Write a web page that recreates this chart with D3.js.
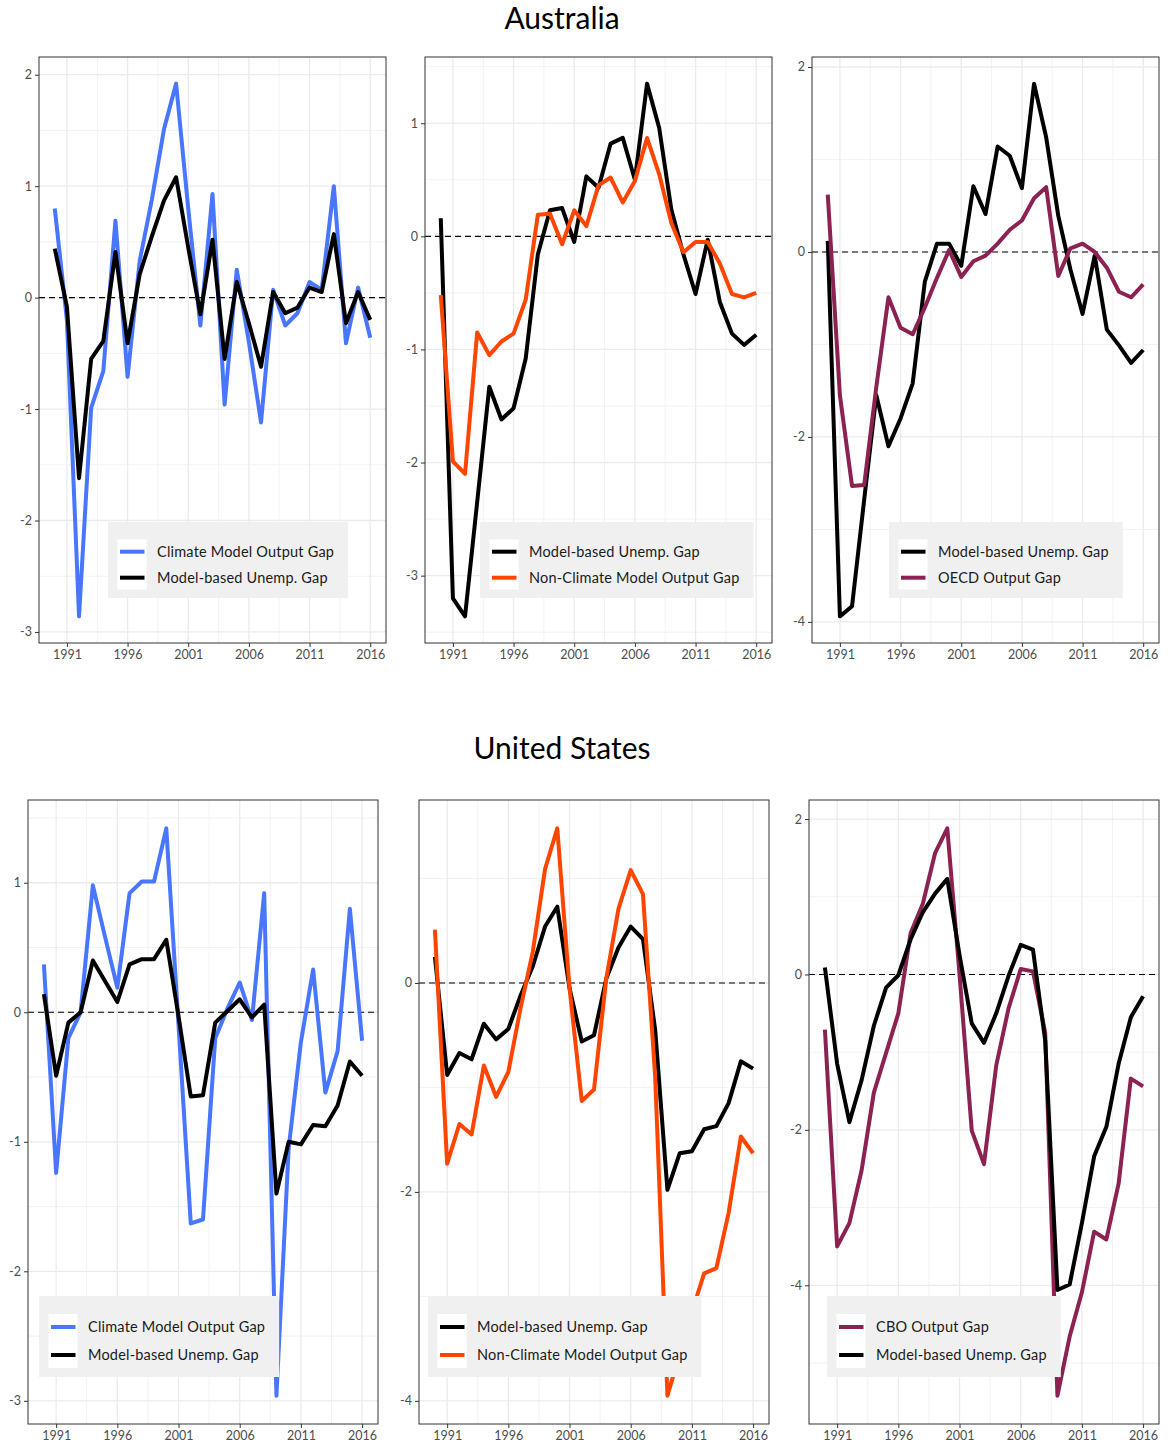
<!DOCTYPE html>
<html>
<head>
<meta charset="utf-8">
<script src="https://cdn.jsdelivr.net/npm/d3@7/dist/d3.min.js"></script>
<style>
  html, body { margin: 0; padding: 0; background: #ffffff; }
  svg { display: block; }
</style>
</head>
<body>
<svg id="chart" width="1168" height="1449"></svg>
<script>
// ---- data -----------------------------------------------------------------
const years = [1990, 1991, 1992, 1993, 1994, 1995, 1996, 1997, 1998, 1999,
               2000, 2001, 2002, 2003, 2004, 2005, 2006, 2007, 2008, 2009,
               2010, 2011, 2012, 2013, 2014, 2015, 2016];
const xTickYears = [1991, 1996, 2001, 2006, 2011, 2016];

// Australia
const auClimateGap    = [0.80, -0.20, -2.86, -0.99, -0.66, 0.69, -0.71, 0.33, 0.88, 1.51,
                         1.92, 0.80, -0.25, 0.93, -0.96, 0.25, -0.40, -1.12, 0.07, -0.25,
                         -0.14, 0.14, 0.07, 1.00, -0.41, 0.09, -0.36];
const auUnempGapA     = [0.44, -0.08, -1.62, -0.55, -0.39, 0.41, -0.41, 0.21, 0.55, 0.87,
                         1.08, 0.45, -0.15, 0.52, -0.55, 0.14, -0.23, -0.62, 0.05, -0.14,
                         -0.09, 0.09, 0.05, 0.57, -0.23, 0.05, -0.20];
const auNonClimateGap = [-0.52, -1.99, -2.10, -0.85, -1.05, -0.93, -0.86, -0.56, 0.19, 0.20,
                         -0.07, 0.23, 0.09, 0.45, 0.52, 0.30, 0.49, 0.87, 0.55, 0.12,
                         -0.14, -0.05, -0.05, -0.24, -0.51, -0.54, -0.50];
const auUnempGapB     = [0.16, -3.20, -3.36, -2.35, -1.33, -1.62, -1.52, -1.08, -0.16, 0.23,
                         0.25, -0.05, 0.53, 0.43, 0.82, 0.87, 0.50, 1.35, 0.96, 0.24,
                         -0.16, -0.51, -0.03, -0.58, -0.86, -0.96, -0.87];
const auOecdGap       = [0.62, -1.55, -2.53, -2.52, -1.46, -0.49, -0.82, -0.89, -0.60, -0.28,
                         0.02, -0.27, -0.10, -0.04, 0.09, 0.24, 0.34, 0.58, 0.70, -0.26,
                         0.04, 0.09, 0.00, -0.17, -0.43, -0.49, -0.35];
const auUnempGapC     = [0.12, -3.94, -3.83, -2.68, -1.55, -2.10, -1.80, -1.42, -0.32, 0.09,
                         0.09, -0.15, 0.71, 0.41, 1.14, 1.04, 0.69, 1.82, 1.24, 0.39,
                         -0.19, -0.67, -0.04, -0.84, -1.01, -1.20, -1.06];

// United States
const usClimateGap    = [0.37, -1.24, -0.20, 0.00, 0.98, 0.58, 0.19, 0.92, 1.01, 1.01,
                         1.42, -0.10, -1.63, -1.60, -0.20, 0.03, 0.23, -0.06, 0.92, -2.96,
                         -1.05, -0.23, 0.33, -0.62, -0.30, 0.80, -0.22];
const usUnempGapA     = [0.14, -0.49, -0.08, 0.00, 0.40, 0.24, 0.08, 0.37, 0.41, 0.41,
                         0.56, -0.03, -0.65, -0.64, -0.08, 0.01, 0.10, -0.04, 0.06, -1.40,
                         -1.00, -1.02, -0.87, -0.88, -0.72, -0.38, -0.49];
const usNonClimateGap = [0.51, -1.73, -1.35, -1.45, -0.79, -1.09, -0.85, -0.24, 0.30, 1.09,
                         1.48, -0.05, -1.13, -1.02, 0.04, 0.71, 1.08, 0.85, -0.90, -3.95,
                         -3.55, -3.15, -2.78, -2.73, -2.20, -1.47, -1.63];
const usUnempGapB     = [0.25, -0.88, -0.67, -0.73, -0.39, -0.54, -0.44, -0.12, 0.16, 0.54,
                         0.73, -0.05, -0.56, -0.50, 0.04, 0.34, 0.54, 0.42, -0.45, -1.98,
                         -1.63, -1.61, -1.40, -1.37, -1.15, -0.75, -0.82];
const usCboGap        = [-0.71, -3.50, -3.20, -2.52, -1.52, -1.01, -0.50, 0.53, 0.91, 1.56,
                         1.88, 0.00, -2.01, -2.44, -1.17, -0.44, 0.07, 0.04, -0.75, -5.42,
                         -4.66, -4.09, -3.31, -3.41, -2.69, -1.34, -1.44];
const usUnempGapC     = [0.09, -1.15, -1.90, -1.36, -0.66, -0.17, -0.01, 0.45, 0.80, 1.04,
                         1.23, 0.25, -0.63, -0.88, -0.50, -0.02, 0.38, 0.32, -0.85, -4.06,
                         -3.99, -3.20, -2.34, -1.96, -1.15, -0.55, -0.28];

// y-axis tick labels per panel
const yTicksAuClimate    = [-3, -2, -1, 0, 1, 2];
const yTicksAuNonClimate = [-3, -2, -1, 0, 1];
const yTicksAuOecd       = [-4, -2, 0, 2];
const yTicksUsClimate    = [-3, -2, -1, 0, 1];
const yTicksUsNonClimate = [-4, -2, 0];
const yTicksUsCbo        = [-4, -2, 0, 2];

const countryTitles = ["Australia", "United States"];

const lblClimate    = "Climate Model Output Gap";
const lblUnemp      = "Model-based Unemp. Gap";
const lblNonClimate = "Non-Climate Model Output Gap";
const lblOecd       = "OECD Output Gap";
const lblCbo        = "CBO Output Gap";

// ---- styling ----------------------------------------------------------------
const FONT = "Lato, 'DejaVu Sans', sans-serif";
const C_BLUE = "#4876FF", C_BLACK = "#000000", C_ORANGE = "#FF4500", C_MAROON = "#8B2252";

const row1 = { top: 57,  bottom: 643,  legTop: 522,  legH: 76, legLine1: 29.7, legGap: 26, keyTop: 17.5, keyBottom: 8.5 };
const row2 = { top: 800, bottom: 1424, legTop: 1296, legH: 81, legLine1: 31,   legGap: 28, keyTop: 18,   keyBottom: 9 };

const panels = [
  { row: row1, x0: 39,  x1: 386,  yTicks: yTicksAuClimate,    legX: 108,
    series: [{ name: lblClimate, values: auClimateGap, color: C_BLUE },
             { name: lblUnemp,   values: auUnempGapA,  color: C_BLACK }] },
  { row: row1, x0: 425, x1: 772,  yTicks: yTicksAuNonClimate, legX: 480,
    series: [{ name: lblUnemp,      values: auUnempGapB,     color: C_BLACK },
             { name: lblNonClimate, values: auNonClimateGap, color: C_ORANGE }] },
  { row: row1, x0: 812, x1: 1159, yTicks: yTicksAuOecd,       legX: 889,
    series: [{ name: lblUnemp, values: auUnempGapC, color: C_BLACK },
             { name: lblOecd,  values: auOecdGap,   color: C_MAROON }] },
  { row: row2, x0: 28,  x1: 378,  yTicks: yTicksUsClimate,    legX: 39,
    series: [{ name: lblClimate, values: usClimateGap, color: C_BLUE },
             { name: lblUnemp,   values: usUnempGapA,  color: C_BLACK }] },
  { row: row2, x0: 419, x1: 769,  yTicks: yTicksUsNonClimate, legX: 428,
    series: [{ name: lblUnemp,      values: usUnempGapB,     color: C_BLACK },
             { name: lblNonClimate, values: usNonClimateGap, color: C_ORANGE }] },
  { row: row2, x0: 809, x1: 1159, yTicks: yTicksUsCbo,        legX: 827,
    series: [{ name: lblCbo,   values: usCboGap,    color: C_MAROON },
             { name: lblUnemp, values: usUnempGapC, color: C_BLACK }] }
];

const svg = d3.select("#chart");

// country headings
svg.selectAll("text.country")
  .data(countryTitles)
  .join("text")
  .attr("class", "country")
  .attr("x", 562)
  .attr("y", (d, i) => i === 0 ? 29 : 759)
  .attr("text-anchor", "middle")
  .style("font-family", FONT)
  .style("font-size", "30px")
  .style("fill", "#000")
  .text(d => d);

function midpoints(ticks, lo, hi) {
  // minor grid positions half-way between major ticks (and one step beyond each end)
  const step = ticks[1] - ticks[0];
  const out = [];
  for (let i = -1; i < ticks.length; i++) {
    const m = ticks[0] + (i + 0.5) * step;
    if (m > lo && m < hi) out.push(m);
  }
  return out;
}

// plain hyphen-minus for negative tick labels
const fmtInt = d => String(d);

panels.forEach(p => {
  const r = p.row;
  const g = svg.append("g");

  // ggplot-style 5% expansion of the data ranges
  const xPad = 0.05 * (d3.max(years) - d3.min(years));
  const x = d3.scaleLinear()
    .domain([d3.min(years) - xPad, d3.max(years) + xPad])
    .range([p.x0, p.x1]);

  const allVals = p.series.flatMap(s => s.values);
  const [vMin, vMax] = d3.extent(allVals);
  const yPad = 0.05 * (vMax - vMin);
  const y = d3.scaleLinear()
    .domain([vMin - yPad, vMax + yPad])
    .range([r.bottom, r.top]);

  // background
  g.append("rect")
    .attr("x", p.x0).attr("y", r.top)
    .attr("width", p.x1 - p.x0).attr("height", r.bottom - r.top)
    .attr("fill", "#fff");

  // minor grid
  const xMinor = midpoints(xTickYears, x.domain()[0], x.domain()[1]);
  const yMinor = midpoints(p.yTicks, y.domain()[0], y.domain()[1]);
  g.append("g").selectAll("line").data(xMinor).join("line")
    .attr("x1", d => x(d)).attr("x2", d => x(d))
    .attr("y1", r.top).attr("y2", r.bottom)
    .attr("stroke", "#F0F0F0").attr("stroke-width", 0.9);
  g.append("g").selectAll("line").data(yMinor).join("line")
    .attr("x1", p.x0).attr("x2", p.x1)
    .attr("y1", d => y(d)).attr("y2", d => y(d))
    .attr("stroke", "#F0F0F0").attr("stroke-width", 0.9);

  // major grid
  g.append("g").selectAll("line").data(xTickYears).join("line")
    .attr("x1", d => x(d)).attr("x2", d => x(d))
    .attr("y1", r.top).attr("y2", r.bottom)
    .attr("stroke", "#EBEBEB").attr("stroke-width", 1.3);
  g.append("g").selectAll("line").data(p.yTicks).join("line")
    .attr("x1", p.x0).attr("x2", p.x1)
    .attr("y1", d => y(d)).attr("y2", d => y(d))
    .attr("stroke", "#EBEBEB").attr("stroke-width", 1.3);

  // zero reference
  g.append("line")
    .attr("x1", p.x0).attr("x2", p.x1)
    .attr("y1", y(0)).attr("y2", y(0))
    .attr("stroke", "#000").attr("stroke-width", 1.1)
    .attr("stroke-dasharray", "6,4");

  // series lines
  const line = d3.line()
    .x((d, i) => x(years[i]))
    .y(d => y(d));
  g.append("g").selectAll("path").data(p.series).join("path")
    .attr("d", s => line(s.values))
    .attr("fill", "none")
    .attr("stroke", s => s.color)
    .attr("stroke-width", 4)
    .attr("stroke-linejoin", "round")
    .attr("stroke-linecap", "butt");

  // legend
  const lg = g.append("g").attr("transform", `translate(${p.legX},${r.legTop})`);
  const box = lg.append("rect")
    .attr("x", 0).attr("y", 0).attr("height", r.legH)
    .attr("fill", "#F0F0F0");
  lg.append("rect")
    .attr("x", 9.5).attr("y", r.keyTop)
    .attr("width", 29).attr("height", r.legH - r.keyTop - r.keyBottom)
    .attr("fill", "#fff");
  const items = lg.selectAll("g.item").data(p.series).join("g")
    .attr("class", "item")
    .attr("transform", (d, i) => `translate(0,${r.legLine1 + i * r.legGap})`);
  items.append("line")
    .attr("x1", 12).attr("x2", 36.5)
    .attr("y1", 0).attr("y2", 0)
    .attr("stroke", d => d.color).attr("stroke-width", 4);
  const labels = items.append("text")
    .attr("x", 49).attr("y", 5)
    .style("font-family", FONT)
    .style("font-size", "14.5px")
    .style("letter-spacing", "0.2px")
    .style("fill", "#1A1A1A")
    .text(d => d.name);
  let maxW = 0;
  labels.each(function () { maxW = Math.max(maxW, this.getComputedTextLength()); });
  box.attr("width", 49 + maxW + 14);

  // panel border
  g.append("rect")
    .attr("x", p.x0).attr("y", r.top)
    .attr("width", p.x1 - p.x0).attr("height", r.bottom - r.top)
    .attr("fill", "none").attr("stroke", "#333").attr("stroke-width", 1);

  // x axis
  const xa = g.append("g").attr("transform", `translate(0,${r.bottom})`)
    .call(d3.axisBottom(x).tickValues(xTickYears).tickFormat(fmtInt).tickSize(4).tickPadding(3));
  xa.select(".domain").remove();
  xa.selectAll(".tick line").attr("stroke", "#333");
  xa.selectAll(".tick text")
    .style("font-family", FONT).style("font-size", "12.5px").attr("fill", "#4D4D4D");

  // y axis
  const ya = g.append("g").attr("transform", `translate(${p.x0},0)`)
    .call(d3.axisLeft(y).tickValues(p.yTicks).tickFormat(fmtInt).tickSize(4).tickPadding(3));
  ya.select(".domain").remove();
  ya.selectAll(".tick line").attr("stroke", "#333");
  ya.selectAll(".tick text")
    .style("font-family", FONT).style("font-size", "12.5px").attr("fill", "#4D4D4D");
});
</script>
</body>
</html>
